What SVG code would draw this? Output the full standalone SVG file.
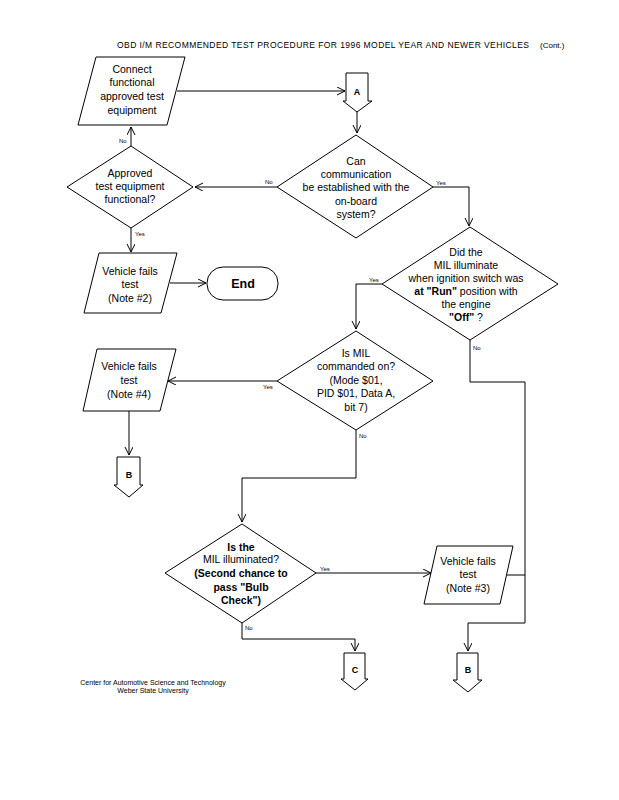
<svg xmlns="http://www.w3.org/2000/svg" width="619" height="800" viewBox="0 0 619 800">
<style>
.s{fill:#fff;stroke:#000;stroke-width:1}
.t{font-family:"Liberation Sans",Arial,sans-serif;font-size:10.5px;fill:#000;text-anchor:middle}
.b{font-weight:bold}
.l{font-family:"Liberation Sans",Arial,sans-serif;font-size:7px;fill:#000}
.c{fill:none;stroke:#000;stroke-width:1}
</style>
<defs>
<marker id="ah" markerUnits="userSpaceOnUse" markerWidth="10" markerHeight="10" refX="8" refY="4" orient="auto">
<path d="M0,0 L8,4 L0,8" fill="none" stroke="#000" stroke-width="1"/>
</marker>
</defs>
<rect width="619" height="800" fill="#fff"/>
<g id="title">
<text x="117" y="48" class="l" style="font-size:8.5px" textLength="412">OBD I/M RECOMMENDED TEST PROCEDURE  FOR 1996 MODEL YEAR AND NEWER VEHICLES</text>
<text x="540" y="48" class="l" style="font-size:8px">(Cont.)</text>
</g>
<g id="connectors">
<path class="c" d="M177,91 H345" marker-end="url(#ah)"/>
<path class="c" d="M357,112 V133" marker-end="url(#ah)"/>
<path class="c" d="M277,187 H195" marker-end="url(#ah)"/>
<path class="c" d="M131,146 V127" marker-end="url(#ah)"/>
<path class="c" d="M131,228 V252" marker-end="url(#ah)"/>
<path class="c" d="M170,283 H206" marker-end="url(#ah)"/>
<path class="c" d="M433,187 H469 V226" marker-end="url(#ah)"/>
<path class="c" d="M382,284 H356 V329" marker-end="url(#ah)"/>
<path class="c" d="M470,340 V382 H525 V623 H468 V651" marker-end="url(#ah)"/>
<path class="c" d="M277,381 H168" marker-end="url(#ah)"/>
<path class="c" d="M129,411 V455" marker-end="url(#ah)"/>
<path class="c" d="M356,430 V478 H242 V522" marker-end="url(#ah)"/>
<path class="c" d="M316,573 H431" marker-end="url(#ah)"/>
<path class="c" d="M507,575 H525"/>
<path class="c" d="M242,623 V639 H355 V651" marker-end="url(#ah)"/>
<g class="l" style="font-size:6px">
<text x="119" y="143">No</text>
<text x="265" y="184">No</text>
<text x="135" y="236">Yes</text>
<text x="436" y="185">Yes</text>
<text x="369" y="282">Yes</text>
<text x="473" y="350">No</text>
<text x="263" y="389">Yes</text>
<text x="359" y="438">No</text>
<text x="320" y="571">Yes</text>
<text x="245" y="630">No</text>
</g>
</g>
<g id="connect">
<path class="s" d="M96,57 H185 L167,125 H78 Z"/>
<text class="t" x="132" y="73">Connect</text>
<text class="t" x="132" y="86">functional</text>
<text class="t" x="132" y="100">approved test</text>
<text class="t" x="132" y="114">equipment</text>
</g>
<g id="connA">
<path class="s" d="M346,73 H368 V101 H372 L357,112 L343,101 H346 Z"/>
<text class="t b" x="357" y="95" style="font-size:9px">A</text>
</g>
<g id="canComm">
<path class="s" d="M356,135 L433,187 L356,238 L277,187 Z"/>
<text class="t" x="356" y="165">Can</text>
<text class="t" x="356" y="178">communication</text>
<text class="t" x="356" y="191">be established with the</text>
<text class="t" x="356" y="205">on-board</text>
<text class="t" x="356" y="218">system?</text>
</g>
<g id="approved">
<path class="s" d="M131,146 L193,187 L131,228 L67,187 Z"/>
<text class="t" x="130" y="177">Approved</text>
<text class="t" x="130" y="190">test equipment</text>
<text class="t" x="130" y="203">functional?</text>
</g>
<g id="fail2">
<path class="s" d="M99,253 H177 L161,313 H84 Z"/>
<text class="t" x="130" y="275">Vehicle fails</text>
<text class="t" x="130" y="288">test</text>
<text class="t" x="130" y="302">(Note #2)</text>
</g>
<g id="end">
<rect class="s" x="207" y="267" width="71" height="33" rx="16" ry="16"/>
<text class="t b" x="243" y="288" style="font-size:12.5px">End</text>
</g>
<g id="didMil">
<path class="s" d="M470,227 L558,284 L470,340 L382,284 Z"/>
<text class="t" x="466" y="256">Did the</text>
<text class="t" x="466" y="269">MIL illuminate</text>
<text class="t" x="466" y="282">when ignition switch was</text>
<text class="t" x="466" y="295"><tspan class="b">at "Run"</tspan> position with</text>
<text class="t" x="466" y="308">the engine</text>
<text class="t" x="466" y="321"><tspan class="b">"Off"</tspan> ?</text>
</g>
<g id="isMil">
<path class="s" d="M356,331 L433,381 L356,430 L277,381 Z"/>
<text class="t" x="356" y="357">Is MIL</text>
<text class="t" x="356" y="370">commanded on?</text>
<text class="t" x="356" y="384">(Mode $01,</text>
<text class="t" x="356" y="397">PID $01, Data A,</text>
<text class="t" x="356" y="411">bit 7)</text>
</g>
<g id="fail4">
<path class="s" d="M97,349 H176 L160,411 H83 Z"/>
<text class="t" x="129" y="370">Vehicle fails</text>
<text class="t" x="129" y="384">test</text>
<text class="t" x="129" y="398">(Note #4)</text>
</g>
<g id="connB1">
<path class="s" d="M117,457 H140 V485 H143 L129,497 L114,485 H117 Z"/>
<text class="t b" x="129" y="478" style="font-size:9px">B</text>
</g>
<g id="isTheMil">
<path class="s" d="M242,524 L316,573 L242,623 L165,573 Z"/>
<text class="t b" x="241" y="551">Is the</text>
<text class="t" x="241" y="563">MIL illuminated?</text>
<text class="t b" x="241" y="577">(Second chance to</text>
<text class="t b" x="241" y="591">pass "Bulb</text>
<text class="t b" x="241" y="604">Check")</text>
</g>
<g id="fail3">
<path class="s" d="M437,546 H513 L500,604 H424 Z"/>
<text class="t" x="468" y="565">Vehicle fails</text>
<text class="t" x="468" y="578">test</text>
<text class="t" x="468" y="592">(Note #3)</text>
</g>
<g id="connC">
<path class="s" d="M344,653 H365 V679 H368 L355,690 L341,679 H344 Z"/>
<text class="t b" x="355" y="673" style="font-size:9px">C</text>
</g>
<g id="connB2">
<path class="s" d="M457,653 H478 V680 H482 L468,692 L453,680 H457 Z"/>
<text class="t b" x="468" y="673" style="font-size:9px">B</text>
</g>
<g id="footer">
<text class="l" x="153" y="685" text-anchor="middle" style="font-size:7px">Center for Automotive Science and Technology</text>
<text class="l" x="153" y="693" text-anchor="middle" style="font-size:7px">Weber State University</text>
</g>
</svg>
